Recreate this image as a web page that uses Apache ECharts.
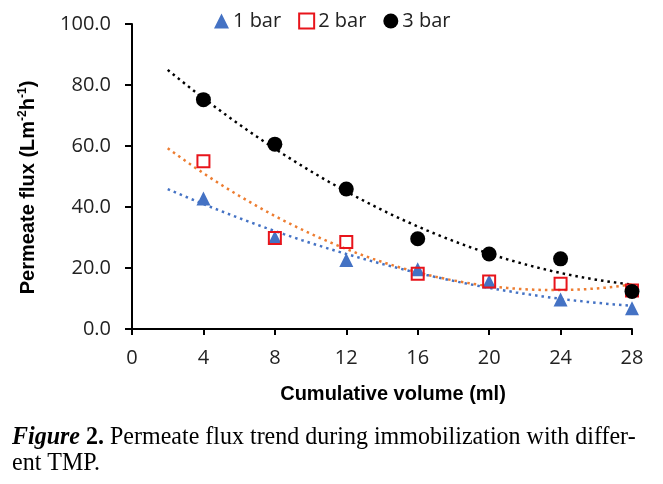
<!DOCTYPE html>
<html><head><meta charset="utf-8">
<script src="https://cdn.jsdelivr.net/npm/echarts@6/dist/echarts.min.js"></script>
<style>html,body{margin:0;padding:0;background:#fff}#c{width:663px;height:484px}</style>
</head><body><div id="c"></div>
<script>
const volume = [4, 8, 12, 16, 20, 24, 28];
const flux1bar = [42.8, 30.0, 22.6, 19.6, 15.6, 9.7, 6.8];
const flux2bar = [55.0, 29.8, 28.5, 18.1, 15.6, 14.8, 12.6];
const flux3bar = [75.2, 60.6, 45.9, 29.6, 24.6, 23.0, 12.3];
const seriesNames = ['1 bar', '2 bar', '3 bar'];
const xTicks = [0, 4, 8, 12, 16, 20, 24, 28];
const yTicks = [0, 20, 40, 60, 80, 100];

// Excel-style 2nd order polynomial trendline (least squares), from x=2 to x=28
function quadFit(xs, ys) {
  let S = [0,0,0,0,0], T = [0,0,0];
  for (let i = 0; i < xs.length; i++) {
    const x = xs[i], y = ys[i];
    for (let k = 0; k < 5; k++) S[k] += Math.pow(x, k);
    for (let k = 0; k < 3; k++) T[k] += y * Math.pow(x, k);
  }
  const A = [[S[0],S[1],S[2],T[0]],[S[1],S[2],S[3],T[1]],[S[2],S[3],S[4],T[2]]];
  for (let i = 0; i < 3; i++) {
    for (let j = i + 1; j < 3; j++) {
      const f = A[j][i] / A[i][i];
      for (let k = i; k < 4; k++) A[j][k] -= f * A[i][k];
    }
  }
  const c = [0,0,0];
  for (let i = 2; i >= 0; i--) {
    let s = A[i][3];
    for (let k = i + 1; k < 3; k++) s -= A[i][k] * c[k];
    c[i] = s / A[i][i];
  }
  return c;
}
function trend(ys) {
  const c = quadFit(volume, ys);
  const pts = [];
  for (let x = 2; x <= 28.0001; x += 0.5) pts.push([x, c[0] + c[1]*x + c[2]*x*x]);
  return pts;
}
const pair = ys => volume.map((v, i) => [v, ys[i]]);

const chart = echarts.init(document.getElementById('c'), null, {renderer: 'canvas'});
const tickFont = {fontFamily: 'Open Sans', fontSize: 20, color: '#222'};
chart.setOption({
  animation: false,
  grid: {left: 132, right: 31, top: 24, bottom: 155},
  legend: {
    data: seriesNames,
    left: 209, top: 6,
    itemWidth: 15, itemHeight: 15, itemGap: 17,
    textStyle: {fontFamily: 'Open Sans', fontSize: 20, color: '#222', padding: [0,0,0,-1]}
  },
  xAxis: {
    type: 'value', min: 0, max: 28, interval: 4,
    name: 'Cumulative volume (ml)', nameLocation: 'middle', nameGap: 55,
    nameTextStyle: {fontFamily: 'Liberation Sans', fontWeight: 'bold', fontSize: 20, color: '#000', padding: [0,0,0,22]},
    axisLine: {lineStyle: {color: '#000', width: 2}},
    axisTick: {show: true, length: 6, lineStyle: {color: '#000', width: 2}},
    axisLabel: Object.assign({margin: 19, formatter: v => String(v)}, tickFont),
    splitLine: {show: false}
  },
  yAxis: {
    type: 'value', min: 0, max: 100, interval: 20,
    name: '{n|Permeate flux (Lm}{s|-2}{n|h}{s|-1}{n|)}', nameLocation: 'middle', nameGap: 93,
    nameTextStyle: {
      padding: [0, 22, 0, 0],
      rich: {
        n: {fontFamily: 'Liberation Sans', fontWeight: 'bold', fontSize: 20, color: '#000', lineHeight: 22},
        s: {fontFamily: 'Liberation Sans', fontWeight: 'bold', fontSize: 12, color: '#000', lineHeight: 22, verticalAlign: 'top', padding: [0,0,9,0]}
      }
    },
    axisLine: {show: true, lineStyle: {color: '#000', width: 2}},
    axisTick: {show: true, length: 7, lineStyle: {color: '#000', width: 2}},
    axisLabel: Object.assign({margin: 21, formatter: v => v.toFixed(1)}, tickFont),
    splitLine: {show: false}
  },
  series: [
    {name: 'trend1', type: 'line', data: trend(flux1bar), showSymbol: false, symbol: 'none', smooth: false,
     lineStyle: {color: '#4472C4', width: 2.5, type: [2.5, 4]}, z: 1, silent: true},
    {name: 'trend2', type: 'line', data: trend(flux2bar), showSymbol: false, symbol: 'none',
     lineStyle: {color: '#ED7D31', width: 2.5, type: [2.5, 4]}, z: 1, silent: true},
    {name: 'trend3', type: 'line', data: trend(flux3bar), showSymbol: false, symbol: 'none',
     lineStyle: {color: '#000', width: 2.5, type: [2.5, 4]}, z: 1, silent: true},
    {name: '1 bar', type: 'scatter', data: pair(flux1bar), symbol: 'triangle', symbolSize: 14,
     itemStyle: {color: '#4472C4', opacity: 1}, z: 3},
    {name: '2 bar', type: 'scatter', data: pair(flux2bar), symbol: 'rect', symbolSize: 12,
     itemStyle: {color: 'rgba(0,0,0,0)', borderColor: '#E8141B', borderWidth: 2, opacity: 1}, z: 4},
    {name: '3 bar', type: 'scatter', data: pair(flux3bar), symbol: 'circle', symbolSize: 15,
     itemStyle: {color: '#000', opacity: 1}, z: 5}
  ],
  graphic: [
    {type: 'text', left: 12, top: 425, scaleY: 1.05, style: {
      text: '{bi|Figure}{b| 2.}{r| Permeate flux trend during immobilization with differ-}\n{r|ent TMP.}',
      rich: {
        bi: {fontFamily: 'Liberation Serif', fontStyle: 'italic', fontWeight: 'bold', fontSize: 24, lineHeight: 25, fill: '#000'},
        b: {fontFamily: 'Liberation Serif', fontWeight: 'bold', fontSize: 24, lineHeight: 25, fill: '#000'},
        r: {fontFamily: 'Liberation Serif', fontSize: 24, lineHeight: 25, fill: '#000'}
      }
    }}
  ]
});
</script></body></html>
